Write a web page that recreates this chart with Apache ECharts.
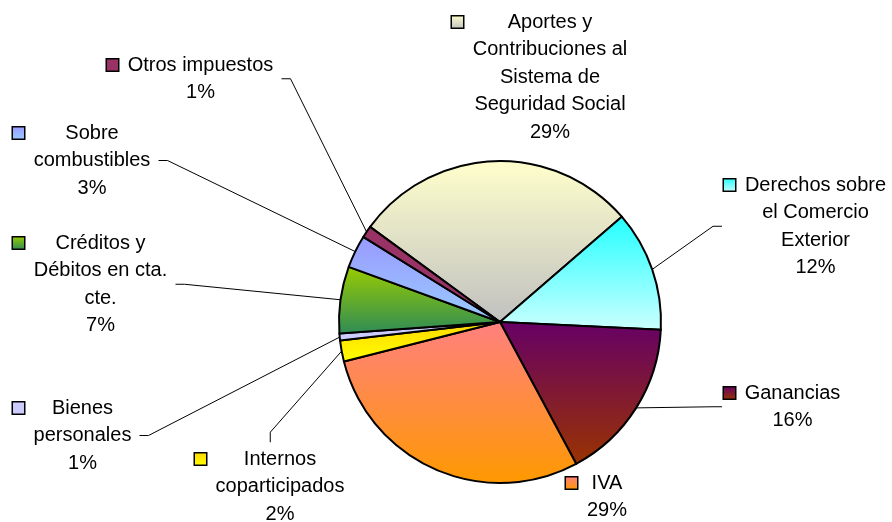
<!DOCTYPE html>
<html>
<head>
<meta charset="utf-8">
<title>Recaudación tributaria por impuesto</title>
<script src="https://cdn.jsdelivr.net/npm/echarts@6/dist/echarts.min.js"></script>
<style>
  html, body { margin: 0; padding: 0; background: #fff; }
  #chart { width: 892px; height: 522px; }
</style>
</head>
<body>
<div id="chart"></div>
<script>
// categorías, con los cortes de línea del rótulo original
var categories = [
    'Aportes y\nContribuciones al\nSistema de\nSeguridad Social',
    'Derechos sobre\nel Comercio\nExterior',
    'Ganancias',
    'IVA',
    'Internos\ncoparticipados',
    'Bienes\npersonales',
    'Créditos y\nDébitos en cta.\ncte.',
    'Sobre\ncombustibles',
    'Otros impuestos'
];
// participación (%)
var shares = [28.6, 12.1, 16.4, 28.9, 2.1, 0.7, 6.7, 3.3, 1.2];
// degradado de cada porción: color arriba / color abajo
var colorsTop = ['#FFFFCC', '#22FFFF', '#660066', '#FF8080', '#FFD700', '#CCCCFF', '#99CC00', '#9999FF', '#993366'];
var colorsBottom = ['#C0C0C0', '#CCFFFF', '#993300', '#FF9900', '#FFFF00', '#CCCCFF', '#2E8B57', '#99CCFF', '#993366'];

// ubicación de los rótulos: borde izq. del cuadro de leyenda, centro de la 1a línea
var labelLeft = [452, 724, 724, 566, 195, 13, 13, 13, 107];
var labelMid = [22, 185, 393, 483, 459, 408, 243, 133, 65];
// lado del rótulo respecto de la torta (de dónde sale la línea guía)
var labelSide = ['none', 'right', 'right', 'none', 'below', 'left', 'left', 'left', 'left'];

var FONT = 'Liberation Sans, Arial, sans-serif';
var FONT_SIZE = 20;
var LH = 27.5;
var KEY = 11;
var GAP = 8.5;

var ctx = document.createElement('canvas').getContext('2d');
ctx.font = FONT_SIZE + 'px ' + FONT;
function textWidth(s) {
    return ctx.measureText(s).width;
}

function grad(i) {
    return new echarts.graphic.LinearGradient(0, 0, 0, 1, [
        { offset: 0, color: colorsTop[i] },
        { offset: 1, color: colorsBottom[i] }
    ]);
}

var total = shares.reduce(function (a, b) { return a + b; }, 0);
var labelTexts = [];
var blockWidth = [];
var blockLines = [];

var data = categories.map(function (name, i) {
    var lines = name.split('\n').concat(Math.round(shares[i] / total * 100) + '%');
    var W = Math.ceil(Math.max.apply(null, lines.map(textWidth))) + 2;
    labelTexts.push(lines.map(function (s, j) {
        return (j === 0 ? '{k| }{g| }' : '{b| }') + '{t|' + s + '}';
    }).join('\n'));
    blockWidth.push(KEY + GAP + W);
    blockLines.push(lines.length);
    return {
        name: name.replace(/\n/g, ' '),
        value: shares[i],
        itemStyle: { color: grad(i) },
        labelLine: { show: labelSide[i] !== 'none' },
        label: {
            width: KEY + GAP + W,
            rich: {
                k: {
                    width: KEY, height: KEY,
                    backgroundColor: grad(i),
                    borderColor: '#000', borderWidth: 1.5,
                    align: 'left', verticalAlign: 'middle', lineHeight: LH
                },
                g: { width: GAP, align: 'left', lineHeight: LH },
                b: { width: KEY + GAP, align: 'left', lineHeight: LH },
                t: {
                    width: W, align: 'center', verticalAlign: 'middle',
                    fontSize: FONT_SIZE, fontFamily: FONT, color: '#000', lineHeight: LH
                }
            }
        }
    };
});

var chart = echarts.init(document.getElementById('chart'));

var option = {
    backgroundColor: '#fff',
    animation: false,
    series: [{
        type: 'pie',
        center: [500, 322],
        radius: 161,
        startAngle: 143.8,
        clockwise: true,
        avoidLabelOverlap: false,
        emphasis: { disabled: true },
        itemStyle: { borderColor: '#000', borderWidth: 2 },
        label: {
            show: true,
            position: 'outside',
            overflow: 'none',
            fontFamily: FONT,
            fontSize: FONT_SIZE,
            lineHeight: LH,
            color: '#000',
            formatter: function (p) {
                return labelTexts[p.dataIndex];
            }
        },
        labelLine: {
            show: true,
            smooth: false,
            lineStyle: { color: '#000', width: 1 }
        },
        // rótulos en la posición del original, línea guía desde el borde del arco
        labelLayout: function (params) {
            var i = params.dataIndex;
            var x = labelLeft[i];
            var y = labelMid[i] - LH / 2;
            var w = blockWidth[i];
            var h = blockLines[i] * LH;
            var res = { x: x, y: y, align: 'left', verticalAlign: 'top', width: w };
            var pts = params.labelLinePoints;
            if (pts && labelSide[i] !== 'none') {
                var p0 = pts[0];
                var a, s;
                if (labelSide[i] === 'left') {
                    a = [x + w + 7, y + h / 2];
                    s = [a[0] + 9, a[1]];
                } else if (labelSide[i] === 'right') {
                    a = [x - 2, y + h / 2];
                    s = [a[0] - 9, a[1]];
                } else {
                    a = [x + w / 2, y - 3];
                    s = [a[0], a[1] - 10];
                }
                res.labelLinePoints = [p0, s, a];
            }
            return res;
        },
        data: data
    }]
};

chart.setOption(option);
</script>
</body>
</html>
